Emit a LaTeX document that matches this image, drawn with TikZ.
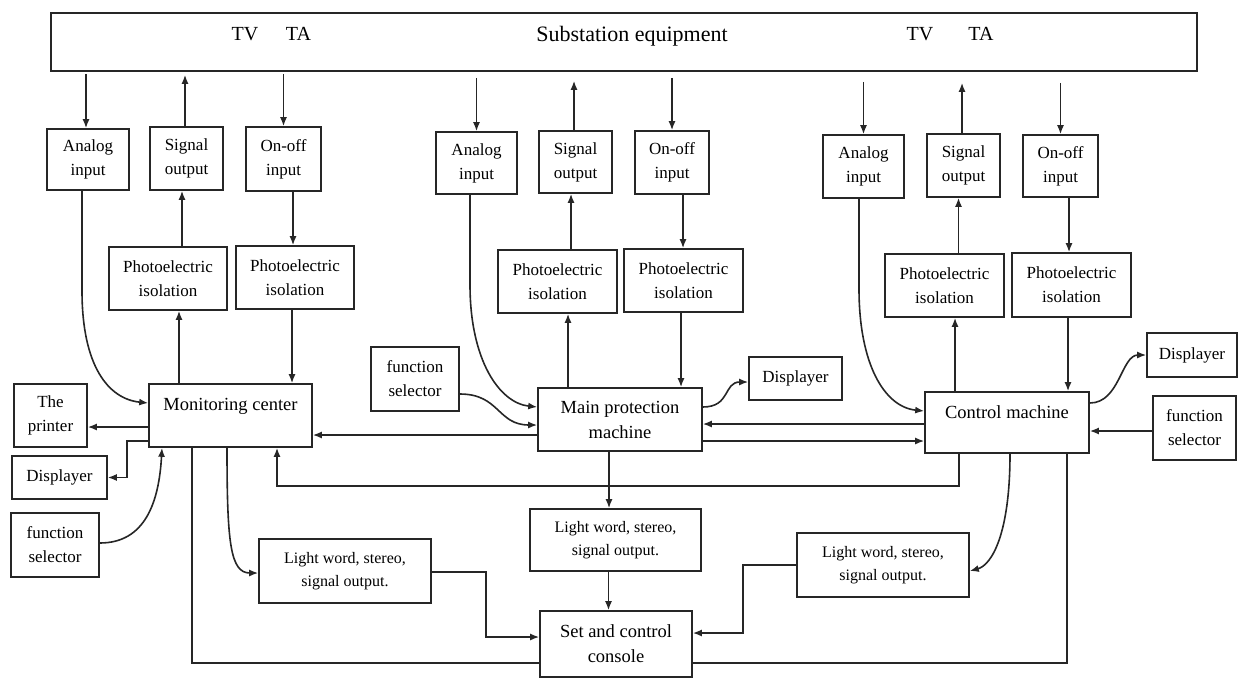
\documentclass[tikz,border=0pt]{standalone}
\usepackage{fontspec}
\setmainfont{Liberation Serif}
\usetikzlibrary{arrows.meta}
\begin{document}
\begin{tikzpicture}[x=1pt,y=-1pt,
  ln/.style={line width=1.6pt, draw=black!85},
  arr/.style={ln, -{Latex[length=9pt,width=7pt]}},
  box/.style={ln, draw, inner sep=1pt, align=center, font=\fontsize{17}{24}\selectfont},
  bigbox/.style={box, font=\fontsize{18.5}{25}\selectfont},
  onebox/.style={bigbox, text height=13pt, text depth=23pt},
  lwbox/.style={box, font=\fontsize{16}{23}\selectfont},
  toptext/.style={font=\fontsize{20}{24}\selectfont, inner sep=0pt}
]
\useasboundingbox (0,0) rectangle (1239,678);

% top box
\node[ln, draw, minimum width=1146pt, minimum height=58pt] (top) at (624,42) {};
\node[toptext] (tv1) at (245,34) {TV};
\node[toptext] (ta1) at (298.5,34) {TA};
\node[toptext, font=\fontsize{22}{26}\selectfont] (sub) at (632,36) {Substation equipment};
\node[toptext] (tv2) at (920,34) {TV};
\node[toptext] (ta2) at (981,34) {TA};

% left group
\node[box, minimum width=82pt, minimum height=61pt] (la) at (88,159.5) {Analog\\input};
\node[box, minimum width=73pt, minimum height=63pt] (ls) at (186.5,158.5) {Signal\\output};
\node[box, minimum width=75pt, minimum height=64pt] (lo) at (283.5,159) {On-off\\input};
\node[box, minimum width=118pt, minimum height=63pt] (lp1) at (168,278.5) {Photoelectric\\isolation};
\node[box, minimum width=118pt, minimum height=63pt] (lp2) at (295,277.5) {Photoelectric\\isolation};
\node[onebox, minimum width=163pt, minimum height=63pt] (mon) at (230.5,415.5) {Monitoring center};
\node[box, minimum width=73pt, minimum height=63pt] (prn) at (50.5,415.5) {The\\printer};
\node[box, minimum width=95pt, minimum height=43pt] (ldis) at (59.5,477.5) {Displayer};
\node[box, minimum width=88pt, minimum height=64pt] (lfs) at (55,545) {function\\selector};
\node[lwbox, minimum width=172pt, minimum height=64pt] (llw) at (345,571) {Light word, stereo,\\signal output.};

% middle group
\node[box, minimum width=81pt, minimum height=62pt] (ma) at (476.5,163) {Analog\\input};
\node[box, minimum width=73pt, minimum height=62pt] (ms) at (575.5,162) {Signal\\output};
\node[box, minimum width=74pt, minimum height=63pt] (mo) at (672,162.5) {On-off\\input};
\node[box, minimum width=119pt, minimum height=63pt] (mp1) at (557.5,281.5) {Photoelectric\\isolation};
\node[box, minimum width=119pt, minimum height=63pt] (mp2) at (683.5,280.5) {Photoelectric\\isolation};
\node[bigbox, minimum width=164pt, minimum height=63pt] (mpm) at (620,419.5) {Main protection\\machine};
\node[box, minimum width=88pt, minimum height=64pt] (mfs) at (415,379) {function\\selector};
\node[box, minimum width=93pt, minimum height=43pt] (mdis) at (795.5,378.5) {Displayer};
\node[lwbox, minimum width=171pt, minimum height=62pt] (mlw) at (615.5,540) {Light word, stereo,\\signal output.};
\node[bigbox, minimum width=152pt, minimum height=66pt] (con) at (616,644) {Set and control\\console};

% right group
\node[box, minimum width=81pt, minimum height=63pt] (ra) at (863.5,166.5) {Analog\\input};
\node[box, minimum width=73pt, minimum height=63pt] (rs) at (963.5,165.5) {Signal\\output};
\node[box, minimum width=75pt, minimum height=62pt] (ro) at (1060.5,166) {On-off\\input};
\node[box, minimum width=119pt, minimum height=63pt] (rp1) at (944.5,285.5) {Photoelectric\\isolation};
\node[box, minimum width=119pt, minimum height=64pt] (rp2) at (1071.5,285) {Photoelectric\\isolation};
\node[onebox, minimum width=164pt, minimum height=61pt, text depth=21pt] (ctl) at (1007,422.5) {Control machine};
\node[box, minimum width=90pt, minimum height=44pt] (rdis) at (1192,355) {Displayer};
\node[box, minimum width=83pt, minimum height=64pt] (rfs) at (1194.5,428) {function\\selector};
\node[lwbox, minimum width=172pt, minimum height=64pt] (rlw) at (883,565) {Light word, stereo,\\signal output.};

% ---- left connectors
\draw[arr] ([xshift=-2pt,yshift=-2pt]la.north |- top.south) -- ([xshift=-2pt]la.north);
\draw[arr] ([xshift=-1.5pt]ls.north) -- ([xshift=-1.5pt,yshift=-3pt]ls.north |- top.south);
\draw[arr] ([yshift=-2pt]lo.north |- top.south) -- (lo.north);
\draw[arr] ([xshift=-4.5pt]ls.south |- lp1.north) -- ([xshift=-4.5pt]ls.south);
\draw[arr] ([xshift=9.5pt]lo.south) -- ([xshift=9.5pt]lo.south |- lp2.north);
\draw[arr] ([xshift=11pt]lp1.south |- mon.north) -- ([xshift=11pt]lp1.south);
\draw[arr] ([xshift=-3pt]lp2.south) -- ([xshift=-3pt]lp2.south |- mon.north);
\draw[arr] ([xshift=-6pt]la.south) -- ++(0,100) .. controls +(0,75) and +(-40,-4) .. ([yshift=12.5pt]mon.west);
\draw[arr] ([yshift=-11.5pt]mon.west) -- ([yshift=-11.5pt]mon.west -| prn.east);
\draw[arr] ([yshift=-25.5pt]mon.west) -- ++(-21,0) |- (ldis.east);
\draw[arr] ([yshift=2pt]lfs.east) .. controls +(45,0) and +(-3,55) .. ([xshift=-68.5pt]mon.south);
\draw[ln] ([xshift=-38.5pt]mon.south) |- ([yshift=-19pt]con.west);
\draw[arr] ([xshift=-3.5pt]mon.south) .. controls +(0,95) and +(-28,0) .. ([yshift=-2pt]llw.west);
\draw[arr] ([xshift=-48pt]ctl.south) -- ++(0,32) -| ([xshift=46.5pt]mon.south);
\draw[arr] ([yshift=-1pt]llw.east) -- ++(54,0) |- ([yshift=7pt]con.west);

% ---- middle connectors
\draw[arr] ([yshift=-6pt]ma.north |- top.south) -- (ma.north);
\draw[arr] ([xshift=-1.5pt]ms.north) -- ([xshift=-1.5pt,yshift=-9pt]ms.north |- top.south);
\draw[arr] ([yshift=-6pt]mo.north |- top.south) -- (mo.north);
\draw[arr] ([xshift=-4.5pt]ms.south |- mp1.north) -- ([xshift=-4.5pt]ms.south);
\draw[arr] ([xshift=11pt]mo.south) -- ([xshift=11pt]mo.south |- mp2.north);
\draw[arr] ([xshift=10.5pt]mp1.south |- mpm.north) -- ([xshift=10.5pt]mp1.south);
\draw[arr] ([xshift=-2.5pt]mp2.south) -- ([xshift=-2.5pt]mp2.south |- mpm.north);
\draw[arr] ([xshift=-6.5pt]ma.south) -- ++(0,90) .. controls +(0,75) and +(-38,-4) .. ([yshift=12.5pt]mpm.west);
\draw[arr] ([yshift=-15pt]mfs.east) .. controls +(40,0) and +(-40,0) .. ([yshift=-5.5pt]mpm.west);
\draw[arr] ([yshift=12.5pt]mpm.east) .. controls +(28,0) and +(-25,0) .. ([yshift=-3.5pt]mdis.west);
\draw[arr] ([yshift=-15.5pt]mpm.west) -- ([yshift=-15.5pt]mpm.west -| mon.east);
\draw[arr] ([yshift=-1.5pt]ctl.west) -- ([yshift=-1.5pt]ctl.west -| mpm.east);
\draw[arr] ([yshift=-21.5pt]mpm.east) -- ([yshift=-21.5pt]mpm.east -| ctl.west);
\draw[arr] ([xshift=-11pt]mpm.south) -- ([xshift=-11pt]mpm.south |- mlw.north);
\draw[arr] ([xshift=-7pt]mlw.south) -- ([xshift=-7pt]mlw.south |- con.north);

% ---- right connectors
\draw[arr] ([yshift=-10pt]ra.north |- top.south) -- (ra.north);
\draw[arr] ([xshift=-1.5pt]rs.north) -- ([xshift=-1.5pt,yshift=-11pt]rs.north |- top.south);
\draw[arr] ([yshift=-11pt]ro.north |- top.south) -- (ro.north);
\draw[arr] ([xshift=-5pt]rs.south |- rp1.north) -- ([xshift=-5pt]rs.south);
\draw[arr] ([xshift=8.5pt]ro.south) -- ([xshift=8.5pt]ro.south |- rp2.north);
\draw[arr] ([xshift=10.5pt]rp1.south |- ctl.north) -- ([xshift=10.5pt]rp1.south);
\draw[arr] ([xshift=-3.5pt]rp2.south) -- ([xshift=-3.5pt]rp2.south |- ctl.north);
\draw[arr] ([xshift=-4.5pt]ra.south) -- ++(0,90) .. controls +(0,75) and +(-40,-4) .. ([yshift=11.5pt]ctl.west);
\draw[arr] ([yshift=19.5pt]ctl.east) .. controls +(30,0) and +(-25,0) .. (rdis.west);
\draw[arr] ([yshift=-3pt]rfs.west) -- ([yshift=-3pt]rfs.west -| ctl.east);
\draw[arr] ([xshift=3pt]ctl.south) .. controls +(0,80) and +(22,-6) .. ([yshift=-6pt]rlw.east);
\draw[arr] (rlw.west) -- ++(-53,0) |- ([yshift=11pt]con.east);
\draw[ln] ([yshift=-19pt]con.east) -| ([xshift=60pt]ctl.south);
\end{tikzpicture}
\end{document}
